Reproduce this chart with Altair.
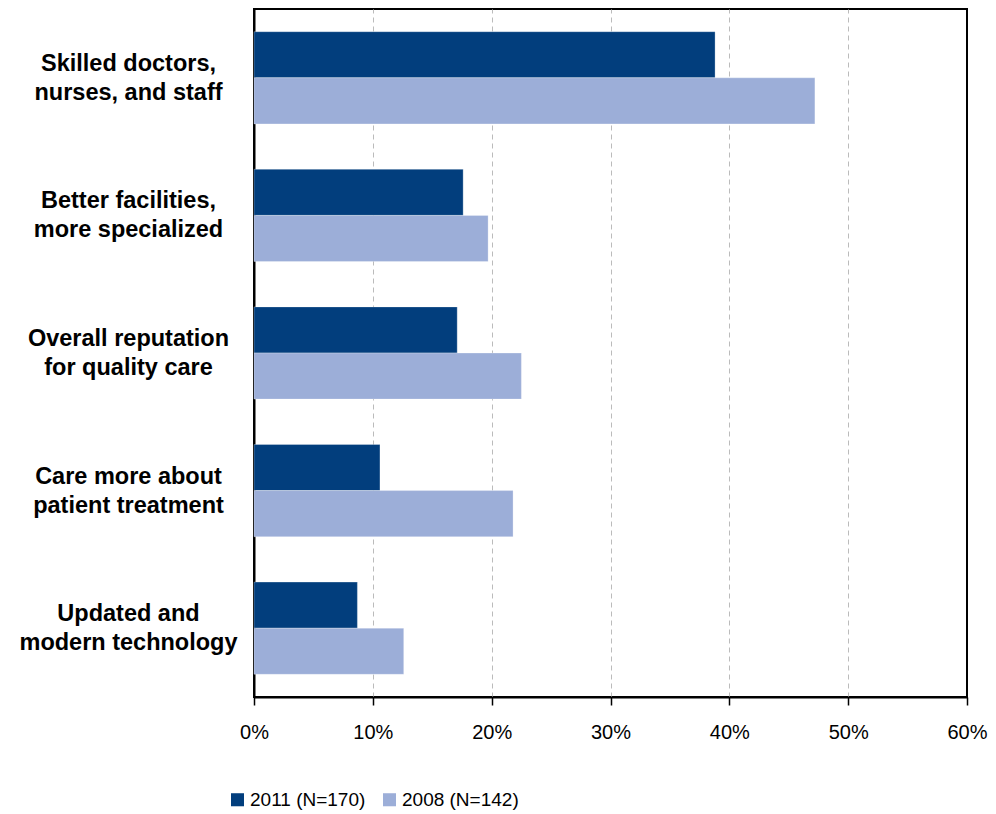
import altair as alt
import pandas as pd

categories = [
    "Skilled doctors,|nurses, and staff",
    "Better facilities,|more specialized",
    "Overall reputation|for quality care",
    "Care more about|patient treatment",
    "Updated and|modern technology",
]
series = ["2011 (N=170)", "2008 (N=142)"]
values_2011 = [0.388, 0.176, 0.171, 0.106, 0.087]
values_2008 = [0.472, 0.197, 0.225, 0.218, 0.126]
colors = ["#023E7D", "#9CAED8"]
tick_values = [0, 0.1, 0.2, 0.3, 0.4, 0.5, 0.6]

rows = []
for c, a, b in zip(categories, values_2011, values_2008):
    rows.append({"cat": c, "series": series[0], "value": a})
    rows.append({"cat": c, "series": series[1], "value": b})
df = pd.DataFrame(rows)

font = "Liberation Sans"

chart = alt.Chart(df).mark_bar(stroke="#ffffff", strokeOpacity=0.35, strokeWidth=0.8).encode(
    y=alt.Y(
        "cat:N",
        sort=categories,
        title=None,
        scale=alt.Scale(paddingInner=0.33, paddingOuter=0.165),
        axis=alt.Axis(
            labelExpr="split(datum.label, '|')",
            labelFont="Liberation Sans",
            labelFontWeight="bold",
            labelFontSize=23.5,
            labelColor="#000000",
            labelAlign="center",
            labelBaseline="middle",
            labelLineHeight=29,
            labelOffset=-14,
            labelPadding=126,
            ticks=False,
            domainColor="#000000",
            domainWidth=2,
            labelLimit=400,
        ),
    ),
    yOffset=alt.YOffset("series:N", sort=series),
    x=alt.X(
        "value:Q",
        title=None,
        scale=alt.Scale(domain=[0, 0.6], nice=False),
        axis=alt.Axis(
            format=".0%",
            values=tick_values,
            labelFont=font,
            labelFontSize=20,
            labelFlush=False,
            labelColor="#000000",
            labelPadding=17,
            tickColor="#000000",
            tickSize=8,
            tickWidth=1.5,
            domainColor="#000000",
            domainWidth=2,
            grid=True,
            gridColor="#BBBBBB",
            gridDash=[5, 4],
            gridWidth=1,
            gridOpacity={"condition": {"test": "datum.value <= 0 || datum.value >= 0.6", "value": 0}, "value": 1},
        ),
    ),
    color=alt.Color(
        "series:N",
        sort=series,
        scale=alt.Scale(domain=series, range=colors),
        legend=alt.Legend(
            title=None,
            orient="none",
            direction="horizontal",
            legendX=-26,
            legendY=781,
            symbolType="square",
            symbolSize=170,
            symbolStrokeWidth=0,
            labelFont=font,
            labelFontSize=19,
            labelColor="#000000",
            labelOffset=3,
            columnPadding=14,
        ),
    ),
).properties(
    width=713,
    height=688,
    autosize=alt.AutoSizeParams(type="none"),
    padding={"left": 246, "top": 1, "right": 21, "bottom": 116},
).configure_view(
    stroke="#000000",
    strokeWidth=2,
)

chart.save("out.html", embed_options={"renderer": "svg", "actions": False})
